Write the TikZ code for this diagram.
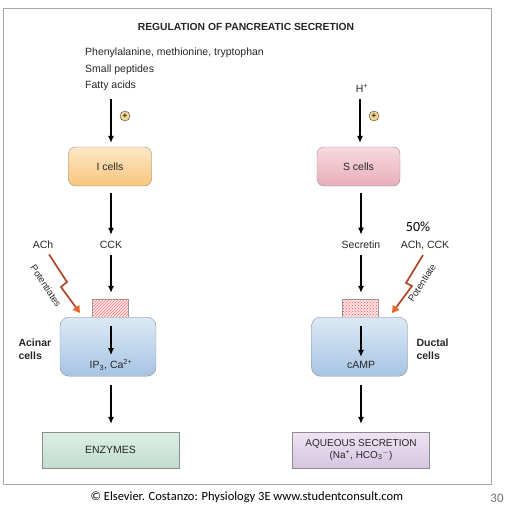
\documentclass[tikz,border=0pt]{standalone}
\usepackage{fontspec}
\setmainfont{Liberation Sans}
\newfontfamily\footfont{Carlito}
\usetikzlibrary{positioning, calc, arrows.meta, patterns}

\definecolor{frame}{HTML}{A8A8A8}
\definecolor{icelltop}{HTML}{FDE8C4}
\definecolor{icellbot}{HTML}{F7C67E}
\definecolor{scelltop}{HTML}{F8D9DF}
\definecolor{scellbot}{HTML}{E8AEBB}
\definecolor{celltop}{HTML}{DCE9F6}
\definecolor{cellbot}{HTML}{A7C4E3}
\definecolor{enztop}{HTML}{DDEFE6}
\definecolor{enzbot}{HTML}{BFDCCE}
\definecolor{aqtop}{HTML}{EEE4F2}
\definecolor{aqbot}{HTML}{D6C5E1}
\definecolor{boltred}{HTML}{B0452C}
\definecolor{boltTip}{HTML}{E8662A}
\definecolor{plusfill}{HTML}{F3D491}

\begin{document}
\begin{tikzpicture}[x=1pt,y=-1pt, font=\fontsize{10.5}{12}\selectfont, text=black!85,
	cellbox/.style={shape=rectangle, rounded corners=7pt, draw=black!45, minimum width=83pt, minimum height=39pt},
	bigcell/.style={shape=rectangle, rounded corners=9pt, draw=black!45, top color=celltop, bottom color=cellbot, minimum width=96pt, minimum height=59pt},
	outbox/.style={shape=rectangle, draw=black!45, minimum width=137pt, minimum height=36pt, align=center, inner sep=1pt},
	receptor/.style={shape=rectangle, draw=black!40, minimum width=36pt, minimum height=18pt, inner sep=0pt},
	flow/.style={-{Latex[length=7pt,width=6pt]}, line width=1.1pt},
	bolt/.style={draw=boltred, line width=1.7pt, line join=miter, -{Triangle[length=7pt,width=8pt,fill=boltTip,color=boltTip]}},
	plus/.style={shape=circle, draw=black!75, fill=plusfill, inner sep=0pt, minimum size=10pt, font=\bfseries\fontsize{8}{8}\selectfont},
	celllabel/.style={anchor=west, align=left, font=\bfseries\fontsize{10.5}{12.5}\selectfont}]

\useasboundingbox (0,0) rectangle (506,514);
\draw[frame, line width=1pt] (3,8) rectangle (491,484);

\node[font=\bfseries\fontsize{10.3}{12}\selectfont] (title) at (246,27) {REGULATION OF PANCREATIC SECRETION};

% stimuli
\node[anchor=west, inner sep=1pt] (amino) at (84,53) {Phenylalanine, methionine, tryptophan};
\node[anchor=west, inner sep=1pt] (peptides) at (84,70) {Small peptides};
\node[anchor=west, inner sep=1pt] (fatty) at (84,86) {Fatty acids};
\node (hplus) at (362,88) {H\textsuperscript{+}};
\coordinate (I in) at (111,99);
\coordinate (S in) at (360,99);
\node[plus] (plus I) at (125,116) {+};
\node[plus] (plus S) at (374,116) {+};

% endocrine cells
\node[cellbox, top color=icelltop, bottom color=icellbot] (I cells) at (110,166.5) {I cells};
\node[cellbox, top color=scelltop, bottom color=scellbot] (S cells) at (358.5,166.5) {S cells};
\draw[flow, shorten >=4pt] (I in) -- (I cells.north -| I in);
\draw[flow, shorten >=4pt] (S in) -- (S cells.north -| S in);

% hormones
\node (cck) at (111,245) {CCK};
\node (ach) at (43,245) {ACh};
\node (secretin) at (361,245) {Secretin};
\node (achcck) at (425,245) {ACh, CCK};
\node[font=\footfont\fontsize{14}{16}\selectfont, text=black] (fifty) at (418,227) {50\%};
\draw[flow, shorten <=7pt, shorten >=3pt] (I cells.south -| cck) -- (cck.north);
\draw[flow, shorten <=7pt, shorten >=3pt] (S cells.south -| secretin) -- (secretin.north);

% receptors and target cells
\node[receptor, preaction={fill=red!8}, pattern=north east lines, pattern color=red!55] (rec A) at (110,308) {};
\node[receptor, preaction={fill=red!10}, pattern=crosshatch dots, pattern color=red!75] (rec D) at (360,308) {};
\node[bigcell, anchor=north] (acinar) at (108,317) {};
\node[bigcell, anchor=north] (ductal) at (359.5,317) {};
\node (ip3) at (111,365) {IP\textsubscript{3}, Ca\textsuperscript{2+}};
\node (camp) at (361,365) {cAMP};
\node[celllabel] (acinar lbl) at (15,349) {Acinar\\cells};
\node[celllabel] (ductal lbl) at (413,349) {Ductal\\cells};
\draw[flow, shorten <=3pt, shorten >=6pt] (cck.south) -- (rec A.north -| cck);
\draw[flow, shorten <=3pt, shorten >=6pt] (secretin.south) -- (rec D.north -| secretin);
\draw[flow, shorten <=9pt, shorten >=1pt] (rec A.south -| ip3) -- (ip3.north);
\draw[flow, shorten <=9pt, shorten >=1pt] (rec D.south -| camp) -- (camp.north);

% potentiation
\coordinate (bolt A end) at (80,313);
\coordinate (bolt D end) at (392,313);
\draw[bolt] ($(ach.south)+(6,2)$) -- (67,282) -- (61,287) -- (bolt A end);
\draw[bolt] ($(achcck.south)+(-2,2)$) -- (406,283) -- (412,286) -- (bolt D end);
\node[rotate=-57, font=\fontsize{9.5}{11}\selectfont] (pot A) at (46,286) {Potentiates};
\node[rotate=57, font=\fontsize{9.5}{11}\selectfont] (pot D) at (422,283) {Potentiate};

% secretions
\node[outbox, top color=enztop, bottom color=enzbot] (enzymes) at (110.5,450) {ENZYMES};
\node[outbox, top color=aqtop, bottom color=aqbot, font=\fontsize{10}{11.5}\selectfont] (aqueous) at (361,450) {AQUEOUS SECRETION\\(Na\textsuperscript{+}, HCO\textsubscript{3}\textsuperscript{$-$})};
\draw[flow, shorten <=9pt, shorten >=8pt] (acinar.south -| ip3) -- (enzymes.north -| ip3);
\draw[flow, shorten <=9pt, shorten >=8pt] (ductal.south -| camp) -- (aqueous.north -| camp);

% credit line
\node[font=\footfont\fontsize{12.5}{14}\selectfont, text=black] (credit) at (247,497) {© Elsevier. Costanzo: Physiology 3E www.studentconsult.com};
\node[font=\footfont\fontsize{13}{14}\selectfont, text=black!55] (page) at (497,498) {30};
\end{tikzpicture}
\end{document}
